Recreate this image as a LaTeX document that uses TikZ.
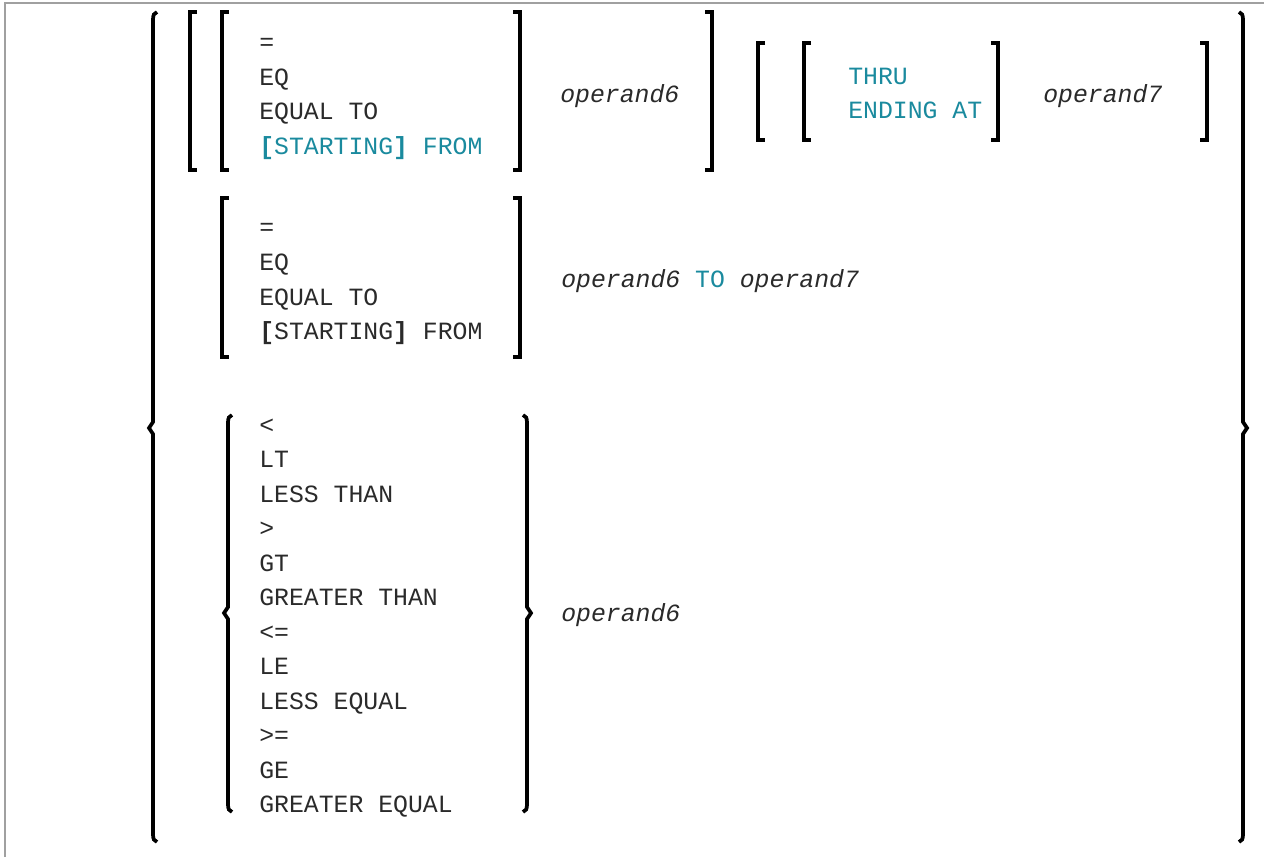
\documentclass[tikz,border=0pt]{standalone}
\usepackage{fontspec}
\setmainfont{Liberation Mono}
\definecolor{kwteal}{HTML}{1A8A9E}
\definecolor{txtgray}{HTML}{2A2A2A}
\definecolor{framegray}{HTML}{A0A0A0}

% square brackets: x, top, bottom
\newcommand{\lsq}[3]{\draw[brk] (#1+7,#2) -- (#1,#2) -- (#1,#3) -- (#1+7,#3);}
\newcommand{\rsq}[3]{\draw[brk] (#1-7,#2) -- (#1,#2) -- (#1,#3) -- (#1-7,#3);}
% curly braces: x, top, middle, bottom
\newcommand{\lbrc}[4]{\draw[brk] (#1+4,#2) .. controls (#1+1,#2+1) and (#1,#2+3) .. (#1,#2+8)
  -- (#1,#3-6) -- (#1-4,#3) -- (#1,#3+6) -- (#1,#4-8) .. controls (#1,#4-3) and (#1+1,#4-1) .. (#1+4,#4);}
\newcommand{\rbrc}[4]{\draw[brk] (#1-4,#2) .. controls (#1-1,#2+1) and (#1,#2+3) .. (#1,#2+8)
  -- (#1,#3-6) -- (#1+4,#3) -- (#1,#3+6) -- (#1,#4-8) .. controls (#1,#4-3) and (#1-1,#4-1) .. (#1-4,#4);}

\begin{document}
\begin{tikzpicture}[x=0.75pt, y=-0.75pt,
  brk/.style={line width=2.8pt},
  word/.style={anchor=base west, inner sep=0pt, text=txtgray,
    font=\fontsize{18.6pt}{22pt}\selectfont},
  kw/.style={word, text=kwteal},
  op/.style={word, font=\fontsize{18.6pt}{22pt}\selectfont\itshape}]

  \useasboundingbox (0,0) rectangle (1264,857);
  \draw[framegray, line width=1.1pt] (5,857) -- (5,3) -- (1264,3);

  % outer braces
  \lbrc{153}{12}{428}{842}
  \rbrc{1243}{12}{428}{842}

  % first alternative
  \lsq{190}{12}{170}
  \lsq{222}{12}{170}
  \node[word] (eqA) at (259,50) {=};
  \node[word] (eqB) at (259,85) {EQ};
  \node[word] (eqC) at (259,119.5) {EQUAL TO};
  \node[kw] (eqD) at (259,154) {\textbf{[}STARTING\textbf{]} FROM};
  \rsq{520}{12}{170}
  \node[op] (opA) at (560,102) {operand6};
  \rsq{712}{12}{170}
  \lsq{758}{43}{140}
  \lsq{804}{43}{140}
  \node[kw] (thru) at (848,84) {THRU};
  \node[kw] (endat) at (848,118.5) {ENDING AT};
  \rsq{998}{43}{140}
  \node[op] (opB) at (1043,102) {operand7};
  \rsq{1207}{43}{140}

  % second alternative
  \lsq{222}{198}{357}
  \node[word] (rgA) at (259,235) {=};
  \node[word] (rgB) at (259,270) {EQ};
  \node[word] (rgC) at (259,305) {EQUAL TO};
  \node[word] (rgD) at (259,339.5) {\textbf{[}STARTING\textbf{]} FROM};
  \rsq{520}{198}{357}
  \node[op] (opC) at (561,287) {operand6 \textcolor{kwteal}{\upshape TO} operand7};

  % third alternative
  \lbrc{228}{415}{613}{812}
  \node[word] (cmA) at (259,433) {<};
  \node[word] (cmB) at (259,467.5) {LT};
  \node[word] (cmC) at (259,502) {LESS THAN};
  \node[word] (cmD) at (259,536.5) {>};
  \node[word] (cmE) at (259,571) {GT};
  \node[word] (cmF) at (259,605.5) {GREATER THAN};
  \node[word] (cmG) at (259,640) {<=};
  \node[word] (cmH) at (259,674.5) {LE};
  \node[word] (cmI) at (259,709) {LESS EQUAL};
  \node[word] (cmJ) at (259,743.5) {>=};
  \node[word] (cmK) at (259,778) {GE};
  \node[word] (cmL) at (259,812.5) {GREATER EQUAL};
  \rbrc{527}{415}{613}{812}
  \node[op] (opD) at (561,621) {operand6};

\end{tikzpicture}
\end{document}
